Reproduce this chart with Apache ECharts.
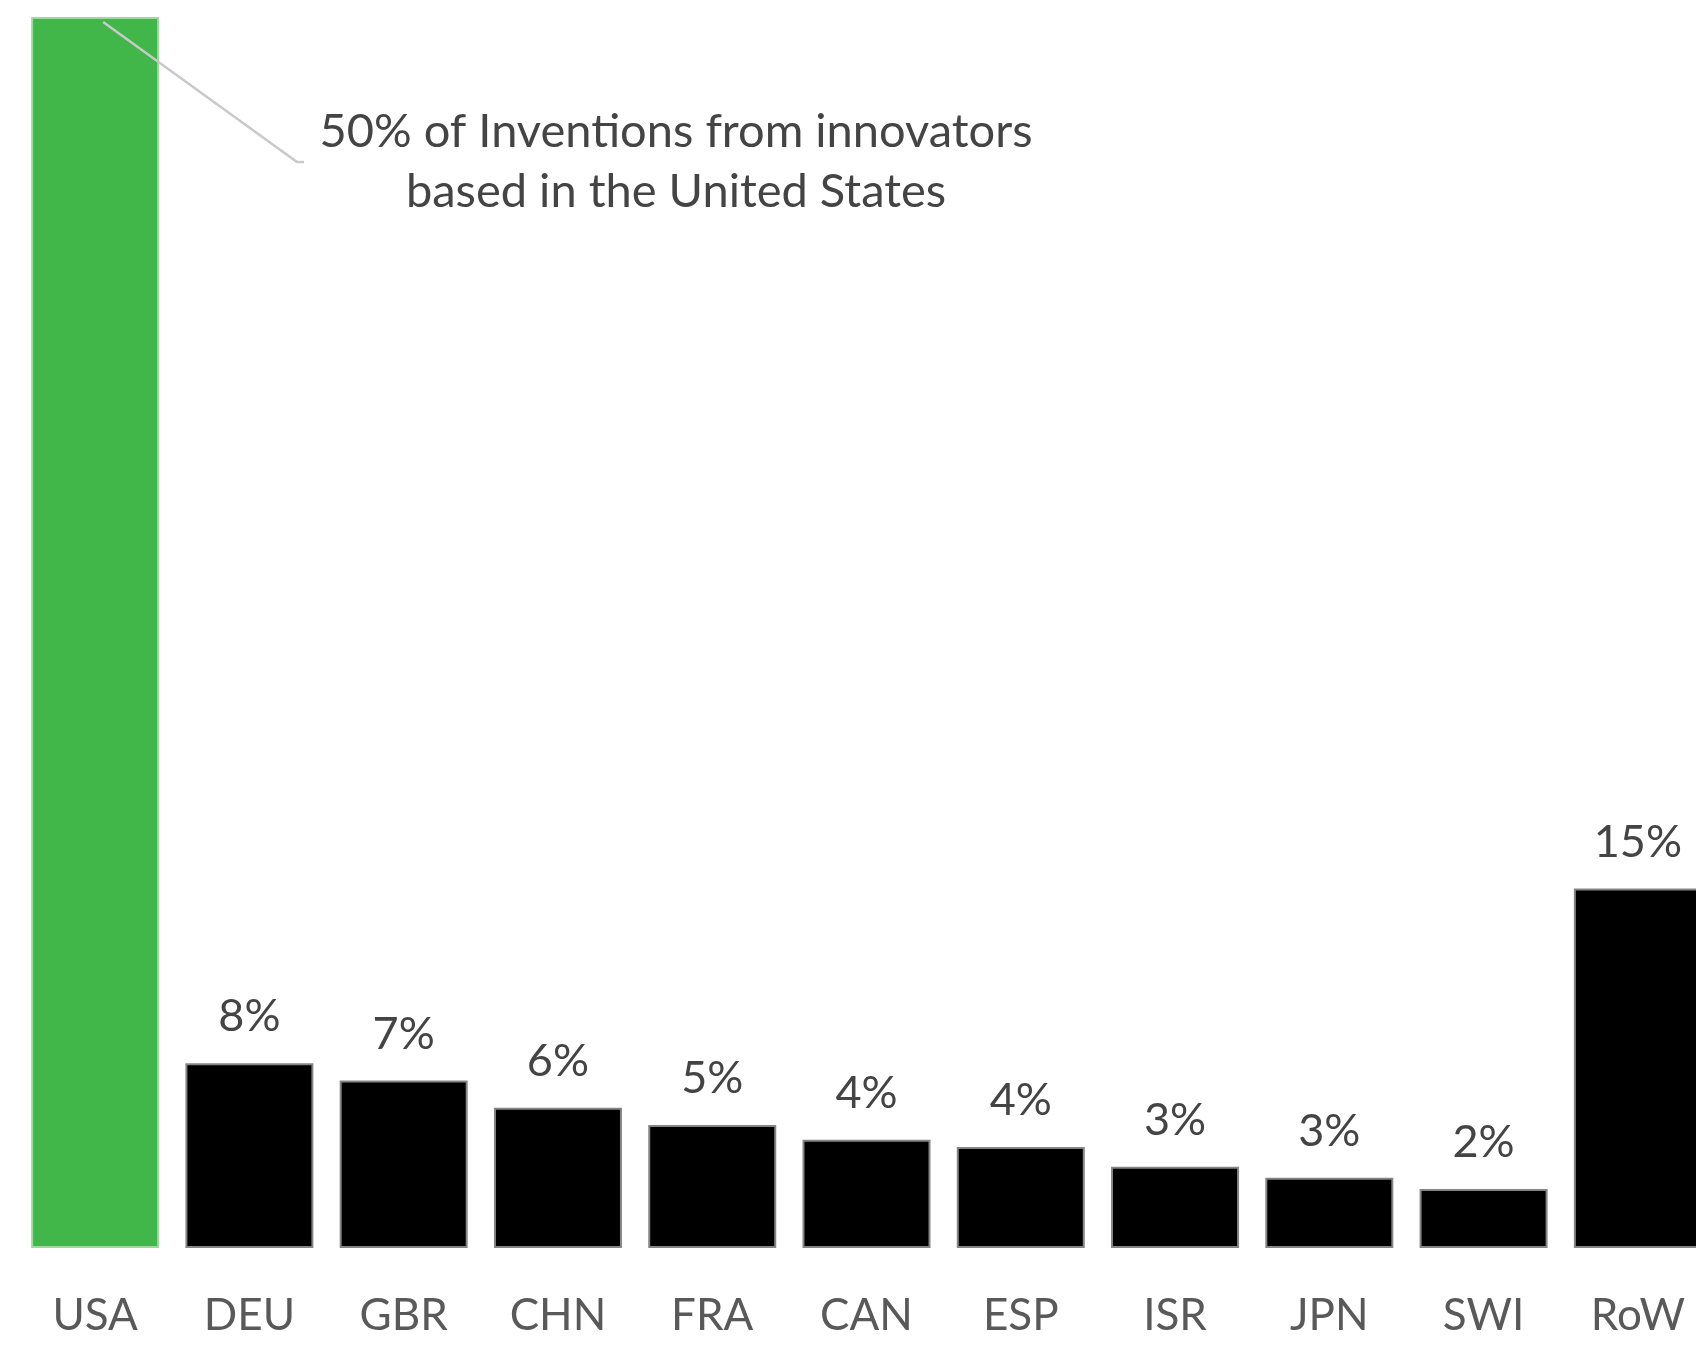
<!DOCTYPE html>
<html><head><meta charset="utf-8">
<script src="https://cdn.jsdelivr.net/npm/echarts@6/dist/echarts.min.js"></script>
<style>html,body{margin:0;padding:0;background:#fff;overflow:hidden;width:1696px;height:1346px;} #c{width:1720px;height:1346px;}</style>
</head><body><div id="c"></div>
<script>
const categories = ['USA','DEU','GBR','CHN','FRA','CAN','ESP','ISR','JPN','SWI','RoW'];
const shares = [50, 7.5, 6.8, 5.7, 5.0, 4.4, 4.1, 3.3, 2.85, 2.4, 14.6];
const shareLabels = ['', '8%','7%','6%','5%','4%','4%','3%','3%','2%','15%'];
const highlightCategory = 'USA';
const annotationLines = ['50% of Inventions from innovators', 'based in the United States'];

const FONT = 'Lato, "Open Sans", sans-serif';
const chart = echarts.init(document.getElementById('c'), null, {renderer: 'canvas'});

const barData = shares.map((v, i) => {
  const hl = categories[i] === highlightCategory;
  return {
    value: v,
    itemStyle: hl
      ? {color: '#41B649', borderColor: '#9BDC9E', borderWidth: 2}
      : {color: '#000000', borderColor: '#858585', borderWidth: 2}
  };
});

chart.setOption({
  animation: false,
  backgroundColor: '#ffffff',
  grid: {left: 18, top: 17, width: 1697, height: 1231, containLabel: false},
  xAxis: {
    type: 'category',
    data: categories,
    axisLine: {show: false},
    axisTick: {show: false},
    axisLabel: {margin: 46, fontSize: 44, fontFamily: FONT, color: '#595959'}
  },
  yAxis: {
    type: 'value', min: 0, max: 50,
    show: false,
    splitLine: {show: false}
  },
  series: [{
    type: 'bar',
    data: barData,
    barWidth: 128,
    label: {
      show: true,
      position: 'top',
      distance: 24,
      fontSize: 45,
      fontFamily: FONT,
      color: '#444444',
      formatter: p => shareLabels[p.dataIndex]
    }
  }]
});

// Callout annotation anchored to the highlighted bar
const hIdx = categories.indexOf(highlightCategory);
const anchor = chart.convertToPixel({seriesIndex: 0}, [highlightCategory, shares[hIdx]]);
const start = [anchor[0] + 8, anchor[1] + 5];
const elbow = [297, 162];
const end = [304, 162];
chart.setOption({
  graphic: [
    {
      type: 'polyline',
      shape: {points: [start, elbow, end]},
      style: {stroke: '#c9c9c9', lineWidth: 2.5, fill: null},
      z: 10
    },
    {
      type: 'text',
      x: 676, y: 162,
      style: {
        text: annotationLines.join('\n'),
        font: '47px ' + FONT,
        fill: '#444444',
        align: 'center',
        verticalAlign: 'middle',
        lineHeight: 60
      },
      z: 10
    }
  ]
});
</script>
</body></html>
